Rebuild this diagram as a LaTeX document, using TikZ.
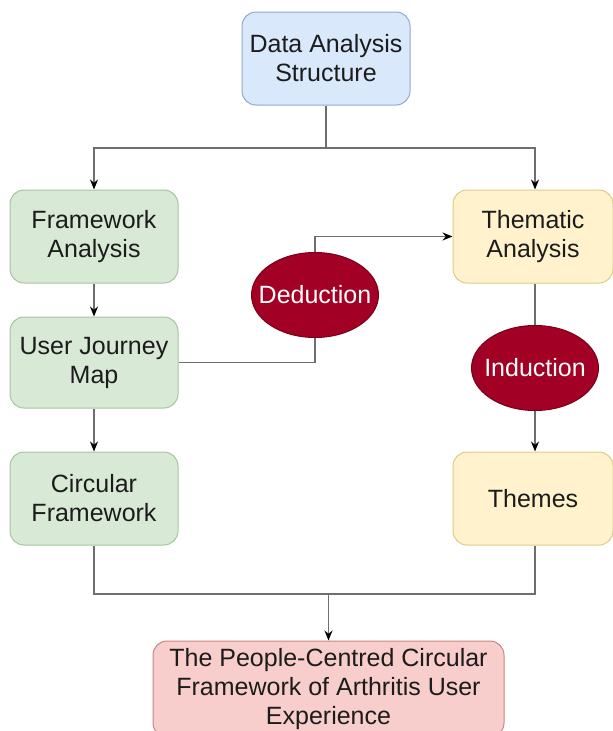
\documentclass[tikz,border=0pt]{standalone}
\usepackage{fontspec}
\setmainfont{Liberation Sans}
\usetikzlibrary{arrows.meta,shapes.geometric,backgrounds}
\definecolor{bluefill}{HTML}{DAE8FC}
\definecolor{blueline}{HTML}{8EA9D0}
\definecolor{greenfill}{HTML}{D8E9D6}
\definecolor{greenline}{HTML}{A3C79A}
\definecolor{yellowfill}{HTML}{FFF2CC}
\definecolor{yellowline}{HTML}{E0CB85}
\definecolor{redfill}{HTML}{F8CECC}
\definecolor{redline}{HTML}{C98583}
\definecolor{darkred}{HTML}{A20025}
\definecolor{darkredline}{HTML}{7A0018}
\definecolor{wire}{HTML}{6E6E6E}
\definecolor{ink}{HTML}{1C1C1C}
\begin{document}
\begin{tikzpicture}[x=1pt,y=-1pt,
  box/.style={rounded corners=14pt, line width=1pt, align=center,
    font=\fontsize{25}{29}\selectfont, inner sep=0pt, text=ink},
  bluebox/.style={box, fill=bluefill, draw=blueline},
  greenbox/.style={box, fill=greenfill, draw=greenline},
  yellowbox/.style={box, fill=yellowfill, draw=yellowline},
  redbox/.style={box, fill=redfill, draw=redline},
  oval/.style={ellipse, fill=darkred, draw=darkredline, line width=1pt,
    minimum width=127pt, minimum height=85pt, inner xsep=-12pt, inner ysep=0pt,
    text=white, font=\fontsize{25}{29}\selectfont},
  wireline/.style={draw=wire, line width=1.3pt},
  arrowline/.style={wireline, -{Stealth[length=10pt,width=8pt,color=black]}}]
\useasboundingbox (0,0) rectangle (613,731);

% boxes
\node[bluebox, minimum width=168pt, minimum height=93pt] (das) at (326,58.5) {Data Analysis\\Structure};
\node[greenbox, minimum width=168pt, minimum height=93pt] (fa) at (94,236.5) {Framework\\Analysis};
\node[greenbox, minimum width=168pt, minimum height=91pt] (ujm) at (94,362.5) {User Journey\\Map};
\node[greenbox, minimum width=168pt, minimum height=93pt] (cf) at (94,498.5) {Circular\\Framework};
\node[yellowbox, minimum width=160pt, minimum height=93pt] (ta) at (533,236.5) {Thematic\\Analysis};
\node[yellowbox, minimum width=160pt, minimum height=93pt] (th) at (533,498.5) {Themes};
\node[redbox, minimum width=351pt, minimum height=96pt] (final) at (328.5,689) {The People-Centred Circular\\Framework of Arthritis User\\Experience};

% method ellipses
\node[oval] (ded) at (315,295) {Deduction};
\node[oval] (ind) at (535,368) {Induction};

\coordinate (split) at (326,148);
\coordinate (merge) at (328.5,594);

% connectors
\begin{scope}[on background layer]
  \draw[wireline] (das.south) -- (split);
  \draw[arrowline] (split) -| (fa.north);
  \draw[arrowline] (split) -| ([xshift=2pt]ta.north);
  \draw[arrowline] (fa.south) -- (ujm.north);
  \draw[arrowline] (ujm.south) -- (cf.north);
  \draw[arrowline] (ujm.east) -| (ded.center) |- (ta.west);
  \draw[wireline] ([xshift=2pt]ta.south) -- (ind.north);
  \draw[arrowline] (ind.south) -- ([xshift=2pt]th.north);
  \draw[wireline] (cf.south) |- (merge);
  \draw[wireline] ([xshift=2pt]th.south) |- (merge);
  \draw[arrowline] (merge) -- (final.north);
\end{scope}
\end{tikzpicture}
\end{document}
